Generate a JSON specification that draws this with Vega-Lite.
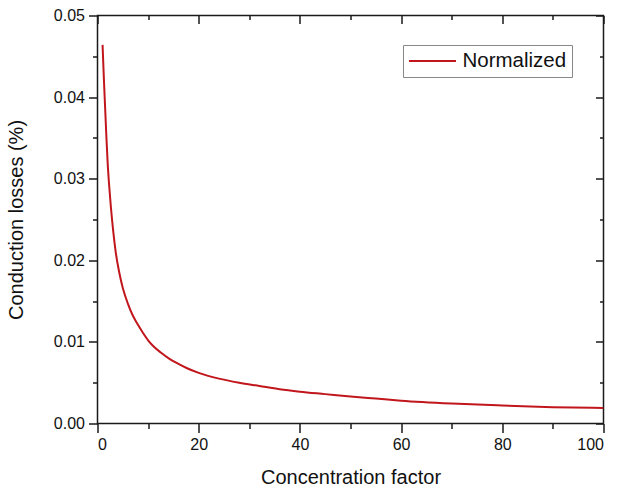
{
  "$schema": "https://vega.github.io/schema/vega-lite/v6.json",
  "width": 506,
  "height": 408,
  "autosize": {"type": "none"},
  "padding": {"left": 97.5, "top": 15.5, "right": 17.5, "bottom": 69.5},
  "background": "white",
  "config": {
    "view": {"stroke": "#1a1a1a", "strokeWidth": 1.5},
    "font": "Liberation Sans",
    "axis": {
      "domain": false,
      "grid": false,
      "tickColor": "#1a1a1a",
      "tickWidth": 1.5,
      "labelColor": "#111111",
      "titleColor": "#111111",
      "labelFont": "Liberation Sans",
      "titleFont": "Liberation Sans",
      "labelFontSize": 16,
      "titleFontSize": 20,
      "titleFontWeight": "normal"
    }
  },
  "data": {
    "values": [
      {"factor": 1, "loss": 0.0464, "series": "Normalized"},
      {"factor": 1.25, "loss": 0.0424, "series": "Normalized"},
      {"factor": 1.5, "loss": 0.0388, "series": "Normalized"},
      {"factor": 1.75, "loss": 0.0352, "series": "Normalized"},
      {"factor": 2.0, "loss": 0.032, "series": "Normalized"},
      {"factor": 2.3, "loss": 0.0292, "series": "Normalized"},
      {"factor": 2.65, "loss": 0.0265, "series": "Normalized"},
      {"factor": 3.1, "loss": 0.0236, "series": "Normalized"},
      {"factor": 3.6, "loss": 0.021, "series": "Normalized"},
      {"factor": 4.3, "loss": 0.0185, "series": "Normalized"},
      {"factor": 5, "loss": 0.0166, "series": "Normalized"},
      {"factor": 6, "loss": 0.0147, "series": "Normalized"},
      {"factor": 7, "loss": 0.0132, "series": "Normalized"},
      {"factor": 8, "loss": 0.0121, "series": "Normalized"},
      {"factor": 9, "loss": 0.0111, "series": "Normalized"},
      {"factor": 10, "loss": 0.0102, "series": "Normalized"},
      {"factor": 11, "loss": 0.0095, "series": "Normalized"},
      {"factor": 12.5, "loss": 0.0087, "series": "Normalized"},
      {"factor": 14.3, "loss": 0.0079, "series": "Normalized"},
      {"factor": 16, "loss": 0.0073, "series": "Normalized"},
      {"factor": 17.6, "loss": 0.0068, "series": "Normalized"},
      {"factor": 20, "loss": 0.0062, "series": "Normalized"},
      {"factor": 24, "loss": 0.0055, "series": "Normalized"},
      {"factor": 28, "loss": 0.005, "series": "Normalized"},
      {"factor": 32, "loss": 0.0046, "series": "Normalized"},
      {"factor": 36, "loss": 0.0042, "series": "Normalized"},
      {"factor": 40, "loss": 0.0039, "series": "Normalized"},
      {"factor": 45, "loss": 0.0036, "series": "Normalized"},
      {"factor": 50, "loss": 0.0033, "series": "Normalized"},
      {"factor": 55, "loss": 0.00305, "series": "Normalized"},
      {"factor": 60, "loss": 0.0028, "series": "Normalized"},
      {"factor": 70, "loss": 0.00245, "series": "Normalized"},
      {"factor": 80, "loss": 0.0022, "series": "Normalized"},
      {"factor": 90, "loss": 0.002, "series": "Normalized"},
      {"factor": 100, "loss": 0.0019, "series": "Normalized"}
    ]
  },
  "resolve": {"axis": {"x": "independent", "y": "independent"}},
  "layer": [
    {
      "mark": {"type": "line", "interpolate": "monotone", "strokeWidth": 2, "clip": true},
      "encoding": {
        "x": {
          "field": "factor", "type": "quantitative",
          "scale": {"domain": [0, 100], "nice": false, "zero": false},
          "axis": {"orient": "bottom", "values": [0, 20, 40, 60, 80, 100], "tickSize": 9, "labelPadding": 4, "title": "Concentration factor", "titlePadding": 15}
        },
        "y": {
          "field": "loss", "type": "quantitative",
          "scale": {"domain": [0, 0.05], "nice": false},
          "axis": {"orient": "left", "values": [0, 0.01, 0.02, 0.03, 0.04, 0.05], "format": ".2f", "tickSize": 9, "labelPadding": 4, "title": "Conduction losses (%)", "titlePadding": 27}
        },
        "color": {
          "field": "series", "type": "nominal",
          "scale": {"range": ["#c0161c"]},
          "legend": {
            "orient": "none", "legendX": 305.5, "legendY": 29.5,
            "title": null,
            "symbolType": "M-2.35,0L2.35,0",
            "symbolSize": 400,
            "symbolStrokeWidth": 2,
            "symbolOffset": 13.5,
            "labelOffset": 19,
            "labelFontSize": 20.5,
            "labelFont": "Liberation Sans",
            "labelColor": "#111111",
            "strokeColor": "#888888",
            "padding": 5
          }
        }
      }
    },
    {
      "mark": {"type": "line", "opacity": 0},
      "encoding": {
        "x": {"field": "factor", "type": "quantitative", "axis": {"orient": "bottom", "values": [10, 30, 50, 70, 90], "tickSize": 5, "labels": false, "title": null}},
        "y": {"field": "loss", "type": "quantitative", "axis": {"orient": "left", "values": [0.005, 0.015, 0.025, 0.035, 0.045], "tickSize": 5, "labels": false, "title": null}}
      }
    },
    {
      "mark": {"type": "line", "opacity": 0},
      "encoding": {
        "x": {"field": "factor", "type": "quantitative", "axis": {"orient": "top", "values": [0, 20, 40, 60, 80, 100], "tickSize": -8, "labels": false, "title": null}},
        "y": {"field": "loss", "type": "quantitative", "axis": {"orient": "right", "values": [0, 0.01, 0.02, 0.03, 0.04, 0.05], "tickSize": -8, "labels": false, "title": null}}
      }
    },
    {
      "mark": {"type": "line", "opacity": 0},
      "encoding": {
        "x": {"field": "factor", "type": "quantitative", "axis": {"orient": "top", "values": [10, 30, 50, 70, 90], "tickSize": -4, "labels": false, "title": null}},
        "y": {"field": "loss", "type": "quantitative", "axis": {"orient": "right", "values": [0.005, 0.015, 0.025, 0.035, 0.045], "tickSize": -4, "labels": false, "title": null}}
      }
    }
  ]
}
